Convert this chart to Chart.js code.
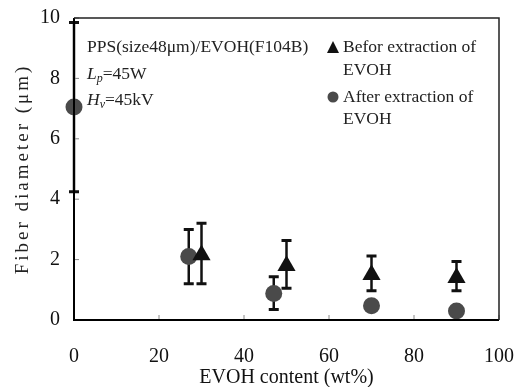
<!DOCTYPE html>
<html><head><meta charset="utf-8">
<script src="https://cdn.jsdelivr.net/npm/chart.js@4"></script>
<style>html,body{margin:0;padding:0;background:#fff}#w{width:516px;height:387px}</style>
</head><body><div id="w"><canvas id="c" width="516" height="387"></canvas></div>
<script>
const xBefore = [30, 50, 70, 90];
const yBefore = [2.15, 1.8, 1.5, 1.4];
const loBefore = [1.2, 1.05, 0.97, 0.97];
const hiBefore = [3.2, 2.63, 2.12, 1.94];
const xAfter = [0, 27, 47, 70, 90];
const yAfter = [7.05, 2.1, 0.88, 0.47, 0.3];
const loAfter = [4.25, 1.2, 0.35, null, null];
const hiAfter = [9.85, 3.0, 1.43, null, null];
const xTicks = [0, 20, 40, 60, 80, 100];
const yTicks = [0, 2, 4, 6, 8, 10];
const SERIF = '"Liberation Serif", "DejaVu Serif", serif';

const errPlugin = {
  id: 'err',
  beforeDatasetsDraw(chart) {
    const ctx = chart.ctx, xs = chart.scales.x, ys = chart.scales.y;
    ctx.save();
    ctx.strokeStyle = '#111'; ctx.lineWidth = 2.5;
    const draw = (xa, lo, hi) => {
      xa.forEach((xv, i) => {
        if (lo[i] == null) return;
        const px = xs.getPixelForValue(xv), p1 = ys.getPixelForValue(lo[i]), p2 = ys.getPixelForValue(hi[i]);
        ctx.beginPath(); ctx.moveTo(px, p1); ctx.lineTo(px, p2); ctx.stroke();
        ctx.lineWidth = 3;
        ctx.beginPath(); ctx.moveTo(px - 5, p1); ctx.lineTo(px + 5, p1);
        ctx.moveTo(px - 5, p2); ctx.lineTo(px + 5, p2); ctx.stroke();
        ctx.lineWidth = 2.5;
      });
    };
    draw(xBefore, loBefore, hiBefore);
    draw(xAfter, loAfter, hiAfter);
    ctx.strokeStyle = '#888'; ctx.lineWidth = 1;
    const a = chart.chartArea;
    yTicks.forEach(v => { const py = ys.getPixelForValue(v); ctx.beginPath(); ctx.moveTo(a.left, py); ctx.lineTo(a.left + 5, py); ctx.stroke(); });
    xTicks.forEach(v => { const px = xs.getPixelForValue(v); ctx.beginPath(); ctx.moveTo(px, a.bottom); ctx.lineTo(px, a.bottom - 5); ctx.stroke(); });
    ctx.restore();
  },
  afterDraw(chart) {
    const ctx = chart.ctx, a = chart.chartArea;
    ctx.save();
    ctx.strokeStyle = '#000'; ctx.lineWidth = 2;
    ctx.beginPath(); ctx.moveTo(a.left, a.top); ctx.lineTo(a.left, a.bottom); ctx.lineTo(a.right, a.bottom); ctx.stroke();
    ctx.lineWidth = 1.5; ctx.strokeStyle = '#222';
    ctx.beginPath(); ctx.moveTo(a.left, a.top); ctx.lineTo(a.right, a.top); ctx.lineTo(a.right, a.bottom); ctx.stroke();
    ctx.fillStyle = '#222'; ctx.textBaseline = 'middle'; ctx.textAlign = 'left';
    ctx.font = '17.5px ' + SERIF;
    ctx.fillText('PPS(size48μm)/EVOH(F104B)', 87, 47);
    const sub = (main, s, rest, x, y) => {
      ctx.font = 'italic 17.5px ' + SERIF; ctx.fillText(main, x, y);
      let w = ctx.measureText(main).width;
      ctx.font = 'italic 12px ' + SERIF; ctx.fillText(s, x + w, y + 5);
      w += ctx.measureText(s).width;
      ctx.font = '17.5px ' + SERIF; ctx.fillText(rest, x + w, y);
    };
    sub('L', 'p', '=45W', 87, 74);
    sub('H', 'v', '=45kV', 87, 100);
    ctx.font = '17.5px ' + SERIF;
    ctx.fillStyle = '#111';
    ctx.beginPath(); ctx.moveTo(333, 41); ctx.lineTo(339, 53); ctx.lineTo(327, 53); ctx.closePath(); ctx.fill();
    ctx.fillStyle = '#222';
    ctx.fillText('Befor extraction of', 343, 47);
    ctx.fillText('EVOH', 343, 70);
    ctx.fillStyle = '#4a4a4a';
    ctx.beginPath(); ctx.arc(333, 97, 5.5, 0, Math.PI * 2); ctx.fill();
    ctx.fillStyle = '#222';
    ctx.fillText('After extraction of', 343, 97);
    ctx.fillText('EVOH', 343, 119);
    ctx.translate(23, 169); ctx.rotate(-Math.PI / 2);
    ctx.textAlign = 'center';
    ctx.font = '19px ' + SERIF;
    ctx.letterSpacing = '3px';
    ctx.fillText('Fiber diameter (μm)', 0, 0);
    ctx.restore();
  }
};

new Chart(document.getElementById('c'), {
  type: 'scatter',
  data: {
    datasets: [
      { label: 'Befor extraction of EVOH', data: xBefore.map((x, i) => ({ x, y: yBefore[i] })),
        pointStyle: 'triangle', radius: 10.5, hoverRadius: 10.5, backgroundColor: '#111', borderColor: '#111', borderWidth: 0 },
      { label: 'After extraction of EVOH', data: xAfter.map((x, i) => ({ x, y: yAfter[i] })),
        pointStyle: 'circle', radius: 8.5, hoverRadius: 8.5, backgroundColor: '#4a4a4a', borderColor: '#4a4a4a', borderWidth: 0 }
    ]
  },
  options: {
    responsive: false, animation: false, clip: false,
    layout: { padding: { top: 18, right: 17, left: 0, bottom: 0 } },
    plugins: { legend: { display: false }, tooltip: { enabled: false } },
    scales: {
      x: { type: 'linear', min: 0, max: 100,
        afterBuildTicks: s => { s.ticks = xTicks.map(v => ({ value: v })); },
        afterFit: s => { s.height = 67; s.paddingLeft = 0; s.paddingRight = 0; },
        grid: { display: false }, border: { display: false },
        ticks: { color: '#111', padding: 17, font: { family: SERIF, size: 20 }, maxRotation: 0 },
        title: { display: true, text: 'EVOH content (wt%)', color: '#111', font: { family: SERIF, size: 20 }, padding: { top: 0, bottom: -3 } } },
      y: { type: 'linear', min: 0, max: 10,
        afterBuildTicks: s => { s.ticks = yTicks.map(v => ({ value: v })); },
        afterFit: s => { s.width = 74; s.paddingTop = 0; s.paddingBottom = 0; },
        grid: { display: false }, border: { display: false },
        ticks: { color: '#111', padding: 6, font: { family: SERIF, size: 20 } } }
    }
  },
  plugins: [errPlugin]
});
</script></body></html>
